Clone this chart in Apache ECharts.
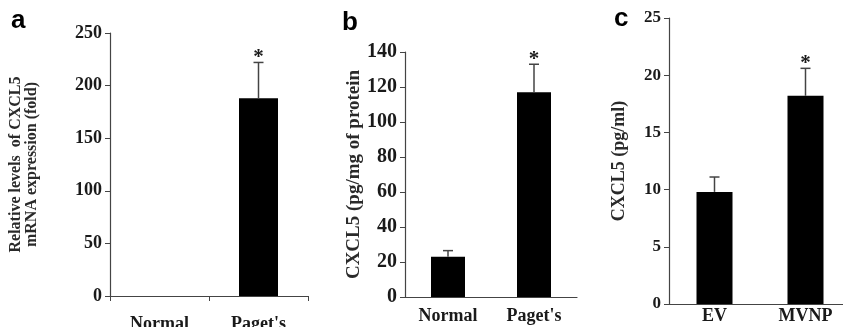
<!DOCTYPE html>
<html>
<head>
<meta charset="utf-8">
<script src="https://cdn.jsdelivr.net/npm/echarts@6/dist/echarts.min.js"></script>
<style>
  html, body { margin: 0; padding: 0; background: #fff; }
  #chart { width: 843px; height: 327px; }
</style>
</head>
<body>
<div id="chart"></div>
<script>
// panel a: mRNA expression
const catsA = ['Normal', "Paget's"]
const valsA = [0, 188]
const errA = [0, 222]
const starA = [false, true]

// panel b: protein level
const catsB = ['Normal', "Paget's"]
const valsB = [23, 117]
const errB = [26.5, 133]
const starB = [false, true]

// panel c: conditioned media
const catsC = ['EV', 'MVNP']
const valsC = [9.8, 18.2]
const errC = [11.1, 20.6]
const starC = [false, true]

const serif = '"Liberation Serif", "Times New Roman", serif'
const ink = '#1a1a1a'
const axisCol = '#444'

const chart = echarts.init(document.getElementById('chart'))

// error bar + asterisk, placed through the axis scales
const errorSeries = (idx, vals, errs, stars) => ({
  type: 'custom',
  xAxisIndex: idx,
  yAxisIndex: idx,
  z: 5,
  data: vals.map((v, i) => [i, v, errs[i], stars[i] ? 1 : 0]),
  renderItem: (params, api) => {
    if (api.value(2) <= api.value(1)) return null
    const base = api.coord([api.value(0), api.value(1)])
    const top = api.coord([api.value(0), api.value(2)])
    const children = [
      { type: 'line', shape: { x1: base[0], y1: base[1], x2: top[0], y2: top[1] },
        style: { stroke: '#444', lineWidth: 1.5 } },
      { type: 'line', shape: { x1: top[0] - 5, y1: top[1], x2: top[0] + 5, y2: top[1] },
        style: { stroke: '#444', lineWidth: 1.5 } }
    ]
    if (api.value(3)) {
      children.push({
        type: 'text',
        style: { text: '*', x: top[0], y: top[1] - 15, align: 'center', verticalAlign: 'top',
          fill: ink, font: 'bold 21px ' + serif }
      })
    }
    return { type: 'group', children }
  }
})

const xAx = (idx, cats, showTicks, margin) => ({
  type: 'category',
  gridIndex: idx,
  data: cats,
  axisLine: { lineStyle: { color: axisCol, width: 1.2 } },
  axisTick: { show: showTicks, length: 5, lineStyle: { color: axisCol } },
  axisLabel: { color: ink, fontFamily: serif, fontWeight: 'bold', fontSize: 18, margin: margin }
})

const yAx = (idx, max, interval, name, gap, labelSize, nameSize) => ({
  type: 'value',
  gridIndex: idx,
  min: 0,
  max: max,
  interval: interval,
  name: name,
  nameLocation: 'middle',
  nameRotate: 90,
  nameGap: gap,
  nameTextStyle: { color: '#2a2a2a', fontFamily: serif, fontWeight: 'bold', fontSize: nameSize, lineHeight: 16 },
  axisLine: { show: true, lineStyle: { color: axisCol, width: 1.2 } },
  axisTick: { show: true, length: 5, lineStyle: { color: axisCol } },
  splitLine: { show: false },
  axisLabel: { color: ink, fontFamily: serif, fontWeight: 'bold', fontSize: labelSize, margin: 8 }
})

const barSeries = (idx, vals, width) => ({
  type: 'bar',
  xAxisIndex: idx,
  yAxisIndex: idx,
  data: vals,
  barWidth: width,
  itemStyle: { color: '#000' }
})

const letter = (text, x, y) => ({
  type: 'text', left: x, top: y,
  style: { text, fill: '#000', font: 'bold 26px "Liberation Sans", Arial, sans-serif' }
})

chart.setOption({
  animation: false,
  grid: [
    { left: 110, top: 33, width: 198, height: 263, outerBoundsMode: 'none' },
    { left: 405, top: 52, width: 172, height: 245, outerBoundsMode: 'none' },
    { left: 669, top: 18, width: 182, height: 286, outerBoundsMode: 'none' }
  ],
  xAxis: [xAx(0, catsA, true, 19), xAx(1, catsB, false, 10), xAx(2, catsC, false, 3)],
  yAxis: [
    yAx(0, 250, 50, 'Relative levels  of CXCL5\nmRNA expression (fold)', 70, 18, 16),
    yAx(1, 140, 20, 'CXCL5 (pg/mg of protein', 36, 20, 19),
    yAx(2, 25, 5, 'CXCL5 (pg/ml)', 42, 17, 18)
  ],
  graphic: [letter('a', 11, 8), letter('b', 342, 10), letter('c', 614, 6)],
  series: [
    barSeries(0, valsA, 39), errorSeries(0, valsA, errA, starA),
    barSeries(1, valsB, 34), errorSeries(1, valsB, errB, starB),
    barSeries(2, valsC, 36), errorSeries(2, valsC, errC, starC)
  ]
})
</script>
</body>
</html>
